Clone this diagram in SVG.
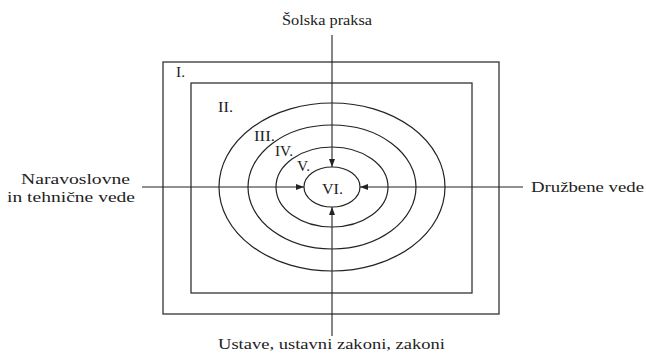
<svg xmlns="http://www.w3.org/2000/svg" width="646" height="358" viewBox="0 0 646 358">
<style>
text{font-family:"Liberation Serif","Times New Roman",serif;font-size:14.5px;fill:#222}
.s{fill:none;stroke:#222;stroke-width:1.2}
.r{fill:none;stroke:#333;stroke-width:1.3}
.c{stroke:#222;stroke-width:1.1;fill:none}
</style>
<defs>
<marker id="a" viewBox="0 0 8 8" refX="8" refY="4" markerWidth="8" markerHeight="8" markerUnits="userSpaceOnUse" orient="auto">
<path d="M0,1 L8,4 L0,7 Z" fill="#222"/>
</marker>
</defs>
<rect width="646" height="358" fill="#fff"/>
<g id="n1"><rect class="r" x="163" y="62" width="336" height="252"/><text x="176" y="77" textLength="9" lengthAdjust="spacingAndGlyphs">I.</text></g>
<g id="n2"><rect class="r" x="191" y="83" width="281" height="210"/><text x="218" y="112" textLength="15" lengthAdjust="spacingAndGlyphs">II.</text></g>
<g id="n3"><ellipse class="s" cx="332" cy="187" rx="113" ry="84"/><text x="254" y="141" textLength="21" lengthAdjust="spacingAndGlyphs">III.</text></g>
<g id="n4"><ellipse class="s" cx="332" cy="187" rx="84" ry="62"/><text x="275" y="156" textLength="18" lengthAdjust="spacingAndGlyphs">IV.</text></g>
<g id="n5"><ellipse class="s" cx="332" cy="187" rx="56" ry="40"/><text x="297" y="171" textLength="13" lengthAdjust="spacingAndGlyphs">V.</text></g>
<g id="n6"><ellipse class="s" cx="332" cy="187" rx="28" ry="20"/><text x="322" y="194" textLength="21" lengthAdjust="spacingAndGlyphs">VI.</text></g>
<g id="top"><text x="282" y="25" textLength="90" lengthAdjust="spacingAndGlyphs">Šolska praksa</text></g>
<g id="left"><text x="21" y="184" textLength="109" lengthAdjust="spacingAndGlyphs">Naravoslovne</text><text x="7" y="202" textLength="128" lengthAdjust="spacingAndGlyphs">in tehnične vede</text></g>
<g id="right"><text x="531" y="192" textLength="113" lengthAdjust="spacingAndGlyphs">Družbene vede</text></g>
<g id="bottom"><text x="218" y="349" textLength="227" lengthAdjust="spacingAndGlyphs">Ustave, ustavni zakoni, zakoni</text></g>
<g id="connectors">
<line class="c" x1="332" y1="35" x2="332" y2="167" marker-end="url(#a)"/>
<line class="c" x1="332" y1="336" x2="332" y2="207" marker-end="url(#a)"/>
<line class="c" x1="142" y1="187" x2="304" y2="187" marker-end="url(#a)"/>
<line class="c" x1="523" y1="187" x2="360" y2="187" marker-end="url(#a)"/>
</g>
</svg>
